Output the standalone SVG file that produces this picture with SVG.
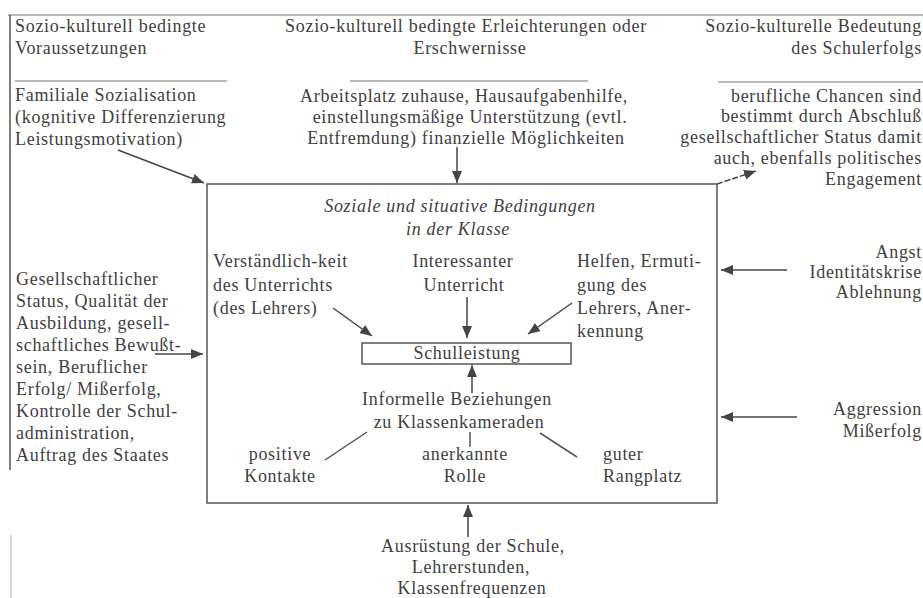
<svg xmlns="http://www.w3.org/2000/svg" width="923" height="598" viewBox="0 0 923 598">
<defs>
<marker id="ah" viewBox="0 0 12 10" refX="12" refY="5" markerWidth="12" markerHeight="10" markerUnits="userSpaceOnUse" orient="auto">
<path d="M0,0 L12,5 L0,10 Z" fill="#444"/>
</marker>
<style>
text{font-family:"Liberation Serif","DejaVu Serif",serif;font-size:18px;letter-spacing:0.7px;fill:#404040}
.m{text-anchor:middle}
.e{text-anchor:end}
.i{font-style:italic}
.ln{stroke:#555;stroke-width:1.5;fill:none}
.sep{stroke:#777;stroke-width:1.2;fill:none}
.ar{stroke:#444;stroke-width:1.5;fill:none;marker-end:url(#ah)}
</style>
</defs>
<rect width="923" height="598" fill="#fff"/>
<g id="frame">
<line class="sep" x1="8" y1="15" x2="923" y2="15"/>
<line class="ln" x1="10" y1="15" x2="10" y2="470"/>
<line class="sep" x1="11" y1="535" x2="11" y2="598" stroke-opacity="0.5"/>
</g>
<g id="top-left">
<text x="15" y="32">Sozio-kulturell bedingte</text>
<text x="15" y="54">Voraussetzungen</text>
<line class="sep" x1="15" y1="81" x2="227" y2="81"/>
<text x="15" y="101">Familiale Sozialisation</text>
<text x="15" y="123">(kognitive Differenzierung</text>
<text x="15" y="145">Leistungsmotivation)</text>
</g>
<g id="top-middle">
<text class="m" x="466" y="32">Sozio-kulturell bedingte Erleichterungen oder</text>
<text class="m" x="470" y="54">Erschwernisse</text>
<line class="sep" x1="350" y1="81" x2="588" y2="81"/>
<text class="m" x="464" y="102">Arbeitsplatz zuhause, Hausaufgabenhilfe,</text>
<text class="m" x="470" y="123">einstellungsmäßige Unterstützung (evtl.</text>
<text class="m" x="466" y="144">Entfremdung) finanzielle Möglichkeiten</text>
</g>
<g id="top-right">
<text class="e" x="922" y="32">Sozio-kulturelle Bedeutung</text>
<text class="e" x="922" y="54">des Schulerfolgs</text>
<line class="sep" x1="718" y1="82" x2="923" y2="82"/>
<text class="e" x="922" y="102">berufliche Chancen sind</text>
<text class="e" x="922" y="122">bestimmt durch Abschluß</text>
<text class="e" x="922" y="143">gesellschaftlicher Status damit</text>
<text class="e" x="922" y="164">auch, ebenfalls politisches</text>
<text class="e" x="922" y="185">Engagement</text>
</g>
<g id="left">
<text x="16" y="285">Gesellschaftlicher</text>
<text x="16" y="307">Status, Qualität der</text>
<text x="16" y="329">Ausbildung, gesell-</text>
<text x="16" y="351">schaftliches Bewußt-</text>
<text x="16" y="373">sein, Beruflicher</text>
<text x="16" y="395">Erfolg/ Mißerfolg,</text>
<text x="16" y="417">Kontrolle der Schul-</text>
<text x="16" y="439">administration,</text>
<text x="16" y="461">Auftrag des Staates</text>
</g>
<g id="right-angst">
<text class="e" x="922" y="258">Angst</text>
<text class="e" x="922" y="278">Identitätskrise</text>
<text class="e" x="922" y="298">Ablehnung</text>
</g>
<g id="right-aggression">
<text class="e" x="922" y="415">Aggression</text>
<text class="e" x="922" y="437">Mißerfolg</text>
</g>
<g id="classroom">
<rect class="ln" x="207" y="184" width="510" height="319"/>
<text class="m i" x="460" y="212">Soziale und situative Bedingungen</text>
<text class="m i" x="458" y="235">in der Klasse</text>
</g>
<g id="verstaendlichkeit">
<text x="213" y="267">Verständlich-keit</text>
<text x="213" y="291">des Unterrichts</text>
<text x="213" y="314">(des Lehrers)</text>
</g>
<g id="interessanter">
<text class="m" x="463" y="267">Interessanter</text>
<text class="m" x="464" y="291">Unterricht</text>
</g>
<g id="helfen">
<text x="577" y="267">Helfen, Ermuti-</text>
<text x="577" y="291">gung des</text>
<text x="577" y="314">Lehrers, Aner-</text>
<text x="577" y="337">kennung</text>
</g>
<g id="schulleistung">
<rect class="ln" x="362" y="343" width="209" height="21" stroke-width="1.2"/>
<text class="m" x="467" y="359">Schulleistung</text>
</g>
<g id="informelle">
<text class="m" x="457" y="405">Informelle Beziehungen</text>
<text class="m" x="459" y="428">zu Klassenkameraden</text>
</g>
<g id="positive">
<text class="m" x="280" y="460">positive</text>
<text class="m" x="280" y="482">Kontakte</text>
</g>
<g id="anerkannte">
<text class="m" x="465" y="460">anerkannte</text>
<text class="m" x="465" y="482">Rolle</text>
</g>
<g id="guter">
<text x="603" y="460">guter</text>
<text x="603" y="482">Rangplatz</text>
</g>
<g id="ausruestung">
<text class="m" x="473" y="552">Ausrüstung der Schule,</text>
<text class="m" x="471" y="573">Lehrerstunden,</text>
<text class="m" x="472" y="594">Klassenfrequenzen</text>
</g>
<g id="connectors">
<line class="ar" x1="118" y1="150" x2="204" y2="183"/>
<line class="ar" x1="457" y1="147" x2="457" y2="183"/>
<line class="ar" x1="717" y1="184" x2="756" y2="171" stroke-dasharray="6 2"/>
<line class="ar" x1="155" y1="354" x2="203" y2="354"/>
<line class="ar" x1="787" y1="270" x2="721" y2="270"/>
<line class="ar" x1="797" y1="417" x2="721" y2="417"/>
<line class="ar" x1="333" y1="308" x2="372" y2="336"/>
<line class="ar" x1="467" y1="297" x2="467" y2="338"/>
<line class="ar" x1="572" y1="303" x2="528" y2="334"/>
<line class="ar" x1="472" y1="393" x2="472" y2="365"/>
<line class="ln" x1="325" y1="460" x2="367" y2="432"/>
<line class="ln" x1="470" y1="432" x2="470" y2="447"/>
<line class="ln" x1="540" y1="433" x2="577" y2="457"/>
<line class="ar" x1="468" y1="537" x2="468" y2="505"/>
</g>
</svg>
